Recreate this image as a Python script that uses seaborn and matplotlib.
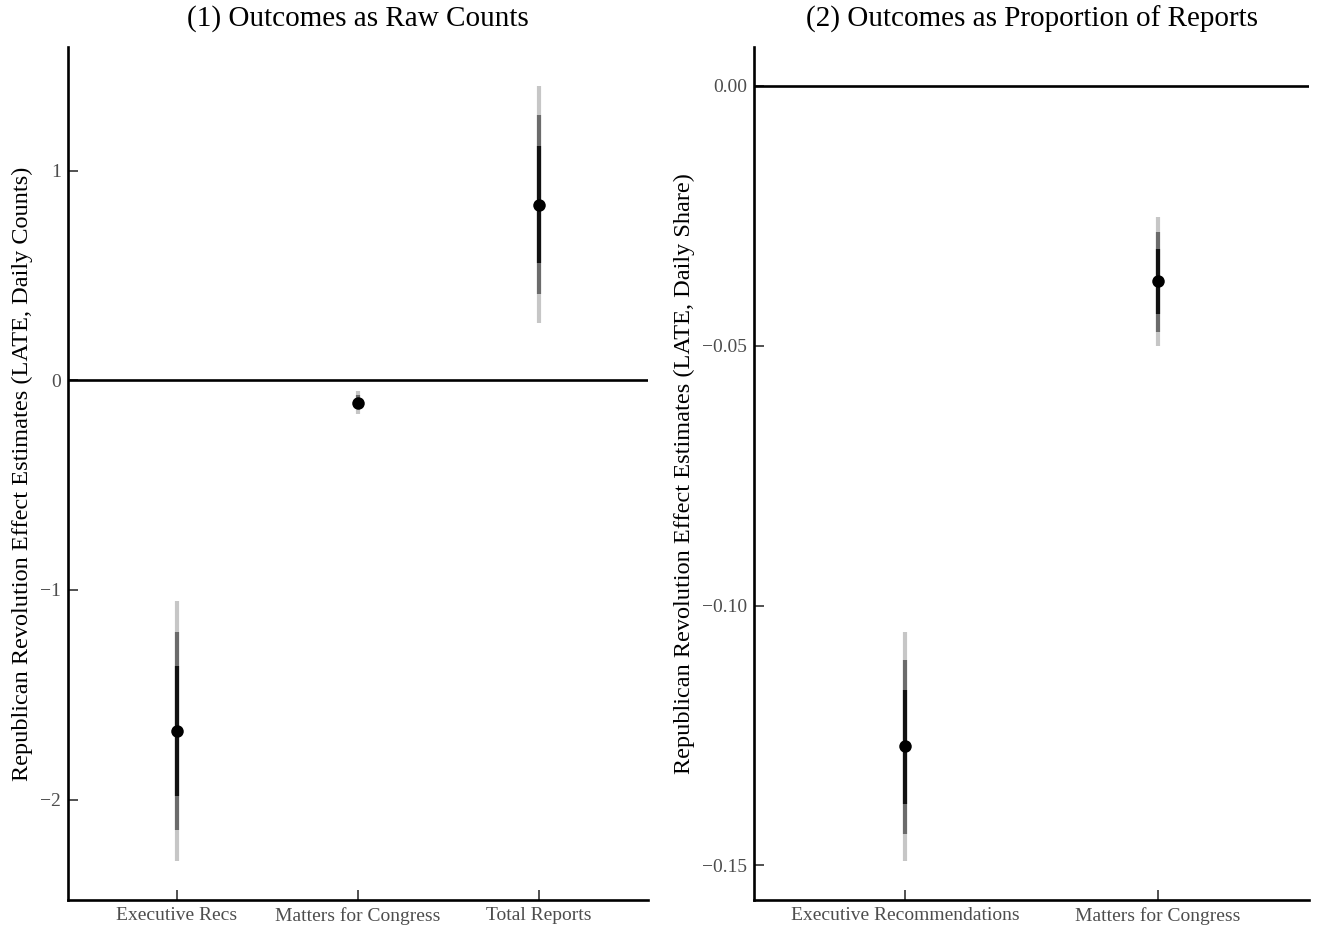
import matplotlib
matplotlib.use("Agg")
import matplotlib.pyplot as plt
import seaborn as sns
import pandas as pd

# Panel 1: outcomes as raw daily counts
cats_counts = ["Executive Recs", "Matters for Congress", "Total Reports"]
est_counts = [-1.675, -0.106, 0.838]
lo90_counts = [-1.981, -0.124, 0.559]
hi90_counts = [-1.365, -0.086, 1.119]
lo95_counts = [-2.146, -0.138, 0.410]
hi95_counts = [-1.199, -0.070, 1.267]
lo99_counts = [-2.294, -0.159, 0.275]
hi99_counts = [-1.052, -0.051, 1.405]

# Panel 2: outcomes as daily share of reports
cats_share = ["Executive Recommendations", "Matters for Congress"]
est_share = [-0.1271, -0.0376]
lo90_share = [-0.1381, -0.0439]
hi90_share = [-0.1162, -0.0315]
lo95_share = [-0.1439, -0.0474]
hi95_share = [-0.1104, -0.0282]
lo99_share = [-0.1492, -0.0501]
hi99_share = [-0.1051, -0.0253]

titles = ["(1) Outcomes as Raw Counts", "(2) Outcomes as Proportion of Reports"]
ylabels = ["Republican Revolution Effect Estimates (LATE, Daily Counts)",
           "Republican Revolution Effect Estimates (LATE, Daily Share)"]

sns.set_theme(style="white")
plt.rcParams["font.family"] = ["Liberation Serif", "DejaVu Serif"]
plt.rcParams["axes.unicode_minus"] = True

W, H = 1317, 926
fig = plt.figure(figsize=(W / 100, H / 100), dpi=100)

axes_px = [(68, 648), (754, 1309)]
top_px, bottom_px = 47, 900

panels = [
    (cats_counts, est_counts, (lo90_counts, hi90_counts), (lo95_counts, hi95_counts),
     (lo99_counts, hi99_counts), [-2, -1, 0, 1], ["\u22122", "\u22121", "0", "1"]),
    (cats_share, est_share, (lo90_share, hi90_share), (lo95_share, hi95_share),
     (lo99_share, hi99_share), [-0.15, -0.10, -0.05, 0.0],
     ["\u22120.15", "\u22120.10", "\u22120.05", "0.00"]),
]

for i, (cats, est, ci90, ci95, ci99, yt, ytl) in enumerate(panels):
    l, r = axes_px[i]
    ax = fig.add_axes([l / W, (H - bottom_px) / H, (r - l) / W, (bottom_px - top_px) / H])
    df = pd.DataFrame({"outcome": cats, "estimate": est})
    pos = list(range(len(cats)))

    # zero reference line, then nested 99/95/90% intervals and point estimates
    ax.axhline(0, color="black", lw=1.9, zorder=1)
    ax.vlines(pos, ci99[0], ci99[1], color="#c6c6c6", lw=3.0, zorder=2)
    ax.vlines(pos, ci95[0], ci95[1], color="#6b6b6b", lw=3.0, zorder=3)
    ax.vlines(pos, ci90[0], ci90[1], color="#111111", lw=3.0, zorder=4)
    sns.stripplot(data=df, x="outcome", y="estimate", jitter=False, size=9,
                  color="black", linewidth=0, ax=ax, zorder=5)

    n = len(cats)
    ax.set_xlim(-0.6, n - 1 + 0.6)
    lo = min(min(ci99[0]), 0)
    hi = max(max(ci99[1]), 0)
    pad = (hi - lo) * 0.05
    ax.set_ylim(lo - pad, hi + pad)
    ax.set_yticks(yt)
    ax.set_yticklabels(ytl)
    ax.set_xlabel("")
    ax.set_ylabel(ylabels[i], fontsize=17.5, color="black", labelpad=5)

    for side in ["top", "right"]:
        ax.spines[side].set_visible(False)
    for side in ["left", "bottom"]:
        ax.spines[side].set_color("black")
        ax.spines[side].set_linewidth(1.9)

    ax.tick_params(axis="both", which="major", bottom=True, left=True,
                   direction="in", length=7, width=1.2,
                   color="#333333", labelcolor="#4d4d4d", labelsize=14, pad=5)
    ax.tick_params(axis="y", pad=5)
    ax.grid(False)

    # panel title centred over the plotting area
    fig.text((l + r) / 2 / W, 1 - 19 / H, titles[i], ha="center", va="center",
             fontsize=21, color="black")

fig.savefig("out.png", dpi=100, facecolor="white")
